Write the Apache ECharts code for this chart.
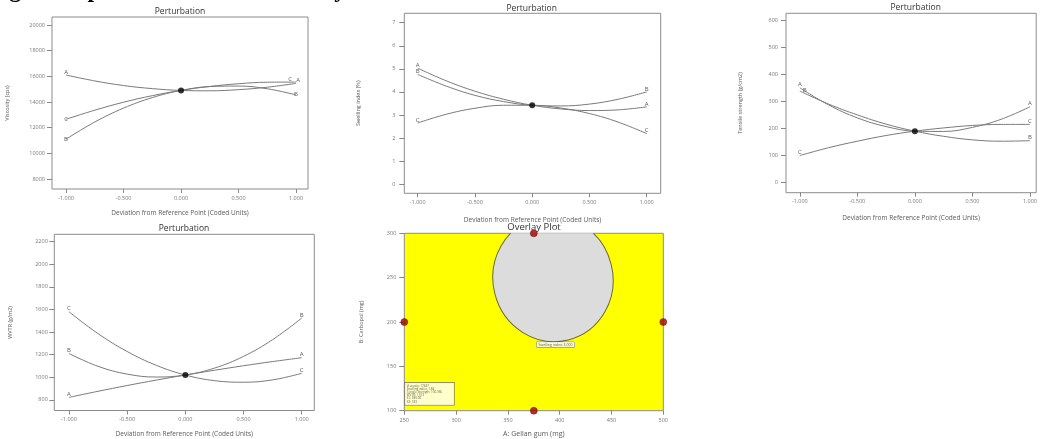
<!DOCTYPE html>
<html>
<head>
<meta charset="utf-8">
<script src="https://cdn.jsdelivr.net/npm/echarts@6/dist/echarts.min.js"></script>
<style>
  html, body { margin: 0; padding: 0; background: #ffffff; }
  #chart { width: 1040px; height: 439px; }
</style>
</head>
<body>
<div id="chart"></div>
<script>
// Coded deviation from the reference point (x of every perturbation trace)
const coded = [-1, -0.75, -0.5, -0.25, 0, 0.25, 0.5, 0.75, 1];
const codedTicks = [-1, -0.5, 0, 0.5, 1];

// Viscosity (cps)
const viscA = [16100, 15640, 15280, 15040, 14900, 14870, 14960, 15150, 15450];
const viscB = [11100, 12440, 13520, 14340, 14900, 15200, 15240, 15030, 14550];
const viscC = [12650, 13360, 13980, 14490, 14900, 15210, 15420, 15540, 15550];
const viscRef = 14900;
const viscTicks = [8000, 10000, 12000, 14000, 16000, 18000, 20000];

// Swelling index (%)
const swellA = [5.03, 4.48, 4.03, 3.68, 3.42, 3.26, 3.19, 3.22, 3.35];
const swellB = [4.76, 4.25, 3.85, 3.58, 3.42, 3.39, 3.47, 3.68, 4.00];
const swellC = [2.65, 3.03, 3.29, 3.42, 3.42, 3.30, 3.06, 2.69, 2.19];
const swellRef = 3.42;
const swellTicks = [0, 1, 2, 3, 4, 5, 6, 7];

// Tensile strength (g/cm2)
const tensA = [350, 287, 239, 207, 190, 189, 204, 234, 280];
const tensB = [338, 290, 250, 216, 190, 171, 158, 153, 155];
const tensC = [100, 129, 153, 174, 190, 202, 211, 215, 215];
const tensRef = 190;
const tensTicks = [0, 100, 200, 300, 400, 500, 600];

// WVTR (g/m2)
const wvtrA = [822, 876, 927, 975, 1020, 1062, 1102, 1139, 1173];
const wvtrB = [1210, 1097, 1028, 1002, 1020, 1081, 1185, 1333, 1524];
const wvtrC = [1580, 1386, 1228, 1106, 1020, 970, 956, 977, 1035];
const wvtrRef = 1020;
const wvtrTicks = [800, 1000, 1200, 1400, 1600, 1800, 2000, 2200];

// Overlay plot: design points, feasible region (centre, semi-axes, tilt), annotations
const designPoints = [[375, 300], [375, 100], [250, 200], [500, 200]];
const regionCenter = [393.5, 248.6];
const regionRadii = [57.9, 71];
const regionTiltDeg = 14;
const contourNote = [[396, 174.5]];
const contourText = 'Swelling index: 3.000';
const flagAnchor = [[251, 106]];
const flagLines = ['Viscosity: 17447', 'Swelling index: 1.84', 'Tensile Strength: 100.956',
                   'WVTR: 1,013', 'X1: 380.00', 'X2: 183'];

const FONT = '"Open Sans", "DejaVu Sans", sans-serif';
const GREY_TEXT = '#5a5a5a';
const LINE = '#7a7a7a';

const grids = [
  { left: 52,    top: 17,    width: 256,   height: 172 },
  { left: 404.3, top: 13.3,  width: 256.4, height: 180 },
  { left: 786,   top: 13.3,  width: 253,   height: 179.4 },
  { left: 54.3,  top: 234.3, width: 260,   height: 177.4 },
  { left: 404.3, top: 233.3, width: 259,   height: 177.4 }
].map((g, i) => Object.assign(g, {
  show: true,
  borderColor: '#8c8c8c',
  borderWidth: 1,
  backgroundColor: i === 4 ? '#ffff00' : 'transparent'
}));

function codedAxis(idx, min, max, gap) {
  return {
    gridIndex: idx, type: 'value', min: min, max: max,
    axisLine: { show: false, onZero: false }, splitLine: { show: false },
    axisTick: { show: true, customValues: codedTicks, length: 4, lineStyle: { color: '#888' } },
    axisLabel: { customValues: codedTicks, formatter: v => v.toFixed(3), fontSize: 5.5,
                 color: '#777', margin: 6, fontFamily: FONT },
    name: 'Deviation from Reference Point (Coded Units)', nameLocation: 'middle', nameGap: gap,
    nameTextStyle: { fontSize: 6.5, color: GREY_TEXT, fontFamily: FONT }
  };
}

function respAxis(idx, min, max, ticks, name, gap, margin) {
  return {
    gridIndex: idx, type: 'value', min: min, max: max,
    axisLine: { show: false, onZero: false }, splitLine: { show: false },
    axisTick: { show: true, customValues: ticks, length: 5, lineStyle: { color: '#888' } },
    axisLabel: { customValues: ticks, formatter: v => String(v), fontSize: 5.5,
                 color: '#777', margin: margin, fontFamily: FONT },
    name: name, nameLocation: 'middle', nameGap: gap, nameRotate: 90,
    nameTextStyle: { fontSize: 5.5, color: GREY_TEXT, fontFamily: FONT }
  };
}

function trace(idx, name, vals, leftOff, rightOff) {
  const last = vals.length - 1;
  return {
    type: 'line', name: name, xAxisIndex: idx, yAxisIndex: idx,
    smooth: 0.4, symbol: 'circle', symbolSize: 0, showSymbol: true,
    lineStyle: { color: LINE, width: 1 }, itemStyle: { color: LINE },
    label: { show: false }, emphasis: { disabled: true }, z: 3,
    data: coded.map((x, i) => {
      const item = { value: [x, vals[i]] };
      if (i === 0 || i === last) {
        item.label = {
          show: true, formatter: name, position: 'top', distance: 0,
          offset: i === 0 ? (leftOff || [0, 0]) : (rightOff || [0, 0]),
          fontSize: 6, color: GREY_TEXT, fontFamily: FONT
        };
      }
      return item;
    })
  };
}

function refDot(idx, y) {
  return {
    type: 'scatter', xAxisIndex: idx, yAxisIndex: idx, data: [[0, y]],
    symbolSize: 6, itemStyle: { color: '#000' }, z: 5, emphasis: { disabled: true }
  };
}

function titleText(x, y, text, size) {
  return {
    type: 'text', x: x, y: y, z: 10,
    style: { text: text, font: size + 'px ' + FONT, fill: '#333',
             align: 'center', verticalAlign: 'middle', textAlign: 'center', textVerticalAlign: 'middle' }
  };
}

const option = {
  animation: false,
  backgroundColor: '#ffffff',
  grid: grids,
  xAxis: [
    codedAxis(0, -1.122, 1.104, 21),
    codedAxis(1, -1.117, 1.122, 23),
    codedAxis(2, -1.12, 1.054, 22),
    codedAxis(3, -1.126, 1.108, 20.5),
    {
      gridIndex: 4, type: 'value', min: 250, max: 500, interval: 50,
      axisLine: { show: false, onZero: false }, splitLine: { show: false },
      axisTick: { show: true, length: 4, lineStyle: { color: '#888' } },
      axisLabel: { fontSize: 5.5, color: '#777', margin: 7, fontFamily: FONT },
      name: 'A: Gellan gum (mg)', nameLocation: 'middle', nameGap: 20,
      nameTextStyle: { fontSize: 7, color: GREY_TEXT, fontFamily: FONT }
    }
  ],
  yAxis: [
    respAxis(0, 7220, 20620, viscTicks, 'Viscosity (cps)', 42, 7),
    respAxis(1, -0.40, 7.41, swellTicks, 'Swelling index (%)', 42.5, 9),
    respAxis(2, -36.9, 624.7, tensTicks, 'Tensile strength (g/cm2)', 43, 8),
    respAxis(3, 706, 2265, wvtrTicks, 'WVTR (g/m2)', 41, 6.5),
    {
      gridIndex: 4, type: 'value', min: 100, max: 300, interval: 50,
      axisLine: { show: false, onZero: false }, splitLine: { show: false },
      axisTick: { show: true, length: 5, lineStyle: { color: '#888' } },
      axisLabel: { fontSize: 5.5, color: '#777', margin: 8, fontFamily: FONT },
      name: 'B: Carbopol (mg)', nameLocation: 'middle', nameGap: 40, nameRotate: 90,
      nameTextStyle: { fontSize: 5.5, color: GREY_TEXT, fontFamily: FONT }
    }
  ],
  graphic: [
    {
      type: 'text', x: -12, y: 2.5, z: 10,
      style: { text: 'Figure 4: perturbation and overlay', font: 'bold 24px "Liberation Serif", serif',
               fill: '#000', align: 'left', verticalAlign: 'bottom', textAlign: 'left', textVerticalAlign: 'bottom' }
    },
    titleText(180, 12, 'Perturbation', 8.5),
    titleText(531.7, 8.3, 'Perturbation', 8.5),
    titleText(915.7, 7.3, 'Perturbation', 8.5),
    titleText(184, 229, 'Perturbation', 8.5),
    titleText(534, 227.5, 'Overlay Plot', 9.5)
  ],
  series: [
    trace(0, 'A', viscA, [0, 0], [2, 0]),
    trace(0, 'B', viscB, [0, 3], [0, 2]),
    trace(0, 'C', viscC, [0, 3], [-6, 0]),
    refDot(0, viscRef),

    trace(1, 'A', swellA),
    trace(1, 'B', swellB),
    trace(1, 'C', swellC),
    refDot(1, swellRef),

    trace(2, 'A', tensA),
    trace(2, 'B', tensB, [5, 2]),
    trace(2, 'C', tensC),
    refDot(2, tensRef),

    trace(3, 'A', wvtrA),
    trace(3, 'B', wvtrB),
    trace(3, 'C', wvtrC),
    refDot(3, wvtrRef),

    {
      type: 'custom', xAxisIndex: 4, yAxisIndex: 4, z: 2,
      data: [[regionCenter[0], regionCenter[1], regionRadii[0], regionRadii[1], regionTiltDeg]],
      renderItem: function (params, api) {
        const c = api.coord([api.value(0), api.value(1)]);
        const s = api.size([api.value(2), api.value(3)]);
        const cs = params.coordSys;
        return {
          type: 'group',
          clipPath: { type: 'rect', shape: { x: cs.x, y: cs.y, width: cs.width, height: cs.height } },
          children: [{
            type: 'ellipse',
            x: c[0], y: c[1],
            rotation: api.value(4) * Math.PI / 180,
            shape: { cx: 0, cy: 0, rx: s[0], ry: s[1] },
            style: { fill: '#dcdcdc', stroke: '#6b6b2e', lineWidth: 1 }
          }]
        };
      }
    },
    {
      type: 'scatter', xAxisIndex: 4, yAxisIndex: 4, data: contourNote, symbolSize: 1,
      itemStyle: { color: 'transparent' }, z: 6, emphasis: { disabled: true },
      label: {
        show: true, position: 'inside', formatter: contourText, fontSize: 3.5, color: '#333',
        backgroundColor: '#ffffff', borderColor: '#666', borderWidth: 0.5, padding: [0.5, 2],
        fontFamily: FONT
      }
    },
    {
      type: 'scatter', xAxisIndex: 4, yAxisIndex: 4, data: flagAnchor, symbolSize: 1,
      itemStyle: { color: 'transparent' }, z: 6, emphasis: { disabled: true },
      label: {
        show: true, position: [0, 0], align: 'left', verticalAlign: 'bottom',
        formatter: flagLines.join('\n'), fontSize: 3, lineHeight: 3.2, color: '#333',
        backgroundColor: '#ffffff', borderColor: '#555', borderWidth: 0.6, padding: [1.5, 12, 1.5, 2],
        fontFamily: FONT
      }
    },
    {
      type: 'scatter', xAxisIndex: 4, yAxisIndex: 4, data: designPoints, clip: false,
      symbolSize: 7, itemStyle: { color: '#a00000', borderColor: '#5a0000', borderWidth: 0.5 },
      z: 7, emphasis: { disabled: true }
    }
  ]
};

const chart = echarts.init(document.getElementById('chart'), null, { renderer: 'canvas' });
chart.setOption(option);
</script>
</body>
</html>
